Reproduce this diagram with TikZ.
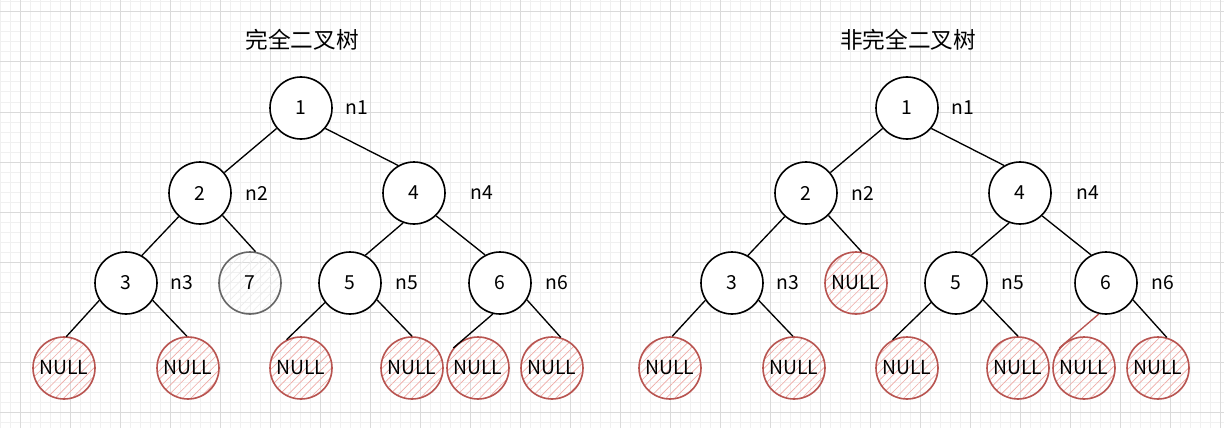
\documentclass[tikz,border=0pt]{standalone}
\usepackage{fontspec}
\setmainfont{Noto Sans CJK SC}
\usetikzlibrary{patterns.meta}
\definecolor{nullred}{HTML}{B85450}
\definecolor{hatchred}{HTML}{EFAAA6}
\definecolor{greyline}{HTML}{666666}
\definecolor{gridmajor}{HTML}{DADADA}
\definecolor{gridminor}{HTML}{F0F0F0}

\begin{document}
\begin{tikzpicture}[x=0.75pt,y=-0.75pt,
  tnode/.style={circle,draw=black,line width=1.2pt,fill=white,minimum size=46.5pt,inner sep=0pt,font=\fontsize{14.5}{14.5}\selectfont},
  nullnode/.style={tnode,draw=nullred,fill=none,pattern={Lines[angle=45,distance=4.5pt,line width=0.5pt]},pattern color=hatchred},
  greynode/.style={tnode,draw=greyline,fill=none,pattern={Lines[angle=45,distance=4.5pt,line width=0.5pt]},pattern color=gray!15},
  tag/.style={font=\fontsize{14.5}{14.5}\selectfont},
  title/.style={font=\fontsize{17}{17}\selectfont},
  link/.style={line width=1pt}]
  \useasboundingbox (0,0) rectangle (1224,428);
  \fill[white] (0,0) rectangle (1224,428);
  % background grid
  \foreach \x in {0,10,...,1220} \draw[gridminor,line width=0.75pt] (\x,0) -- (\x,428);
  \foreach \y in {2,12,...,422} \draw[gridminor,line width=0.75pt] (0,\y) -- (1224,\y);
  \foreach \x in {20,70,...,1220} \draw[gridmajor,line width=0.75pt] (\x,0) -- (\x,428);
  \foreach \y in {12,62,...,412} \draw[gridmajor,line width=0.75pt] (0,\y) -- (1224,\y);

  \node[title] (ta) at (302,40) {完全二叉树};
  \node[title] (tb) at (908,40) {非完全二叉树};

  % the two trees share most of their nodes
  \foreach \t/\dx in {a/0,b/606} {
    \node[tnode] (\t1) at (301+\dx,108) {1};
    \node[tnode] (\t2) at (200+\dx,193) {2};
    \node[tnode] (\t4) at (414+\dx,193) {4};
    \node[tnode] (\t3) at (126+\dx,283) {3};
    \node[tnode] (\t5) at (350+\dx,283) {5};
    \node[tnode] (\t6) at (500+\dx,283) {6};
    \node[tag] (\t n1) at (357+\dx,108) {n1};
    \node[tag] (\t n2) at (257+\dx,193) {n2};
    \node[tag] (\t n4) at (482+\dx,193) {n4};
    \node[tag] (\t n3) at (182+\dx,283) {n3};
    \node[tag] (\t n5) at (407+\dx,283) {n5};
    \node[tag] (\t n6) at (557+\dx,283) {n6};
    \foreach \i/\x in {1/64,2/188,3/301,4/412,5/478,6/552}
      \node[nullnode] (\t N\i) at (\x+\dx,368) {NULL};
    \draw[link] (\t1.220) -- (\t2.40);
    \draw[link] (\t1.-40) -- (\t4.120);
    \draw[link] (\t2.228) -- (\t3.60);
    \draw[link] (\t4.250) -- (\t5.61);
    \draw[link] (\t4.-46) -- (\t6.118);
    \draw[link] (\t3.213) -- (\t N1.86);
    \draw[link] (\t3.-33) -- (\t N2.92);
    \draw[link] (\t5.218) -- (\t N3.117);
    \draw[link] (\t5.-32) -- (\t N4.90);
    \draw[link] (\t6.-32) -- (\t N6.74);
  }

  % where the trees differ
  \node[greynode] (a7) at (250,283) {7};
  \node[nullnode] (bN0) at (856,283) {NULL};
  \draw[link] (a2.-45) -- (a7.80);
  \draw[link] (b2.-45) -- (bN0.80);
  \draw[link] (a6.257) -- (aN5.141);
  \draw[link,nullred] (b6.257) -- (bN5.141);
\end{tikzpicture}
\end{document}
